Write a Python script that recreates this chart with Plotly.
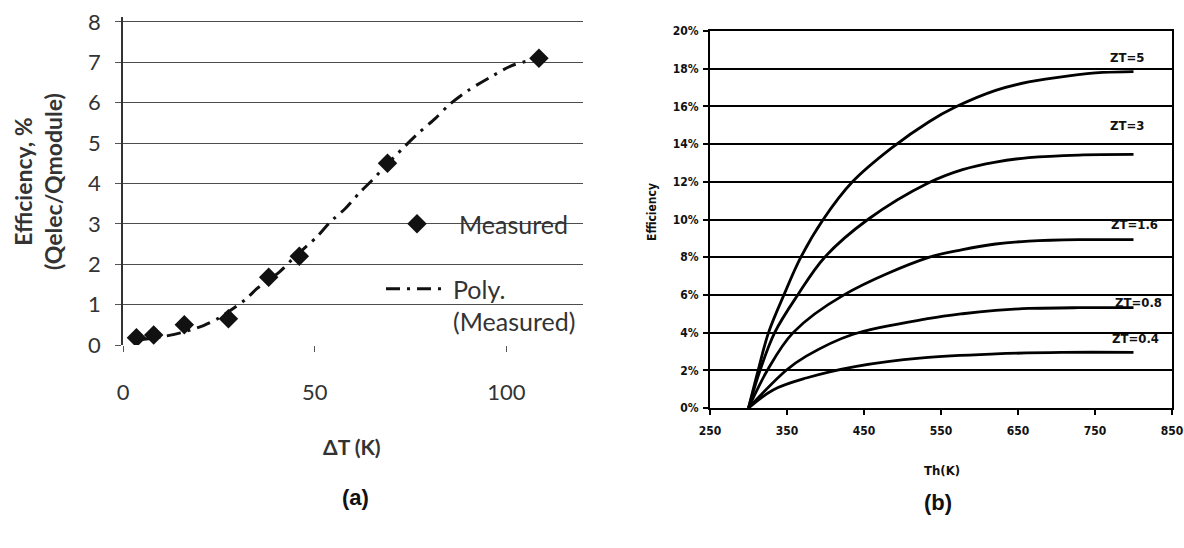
import plotly.graph_objects as go

W, H = 1184, 548

# ---------------- Panel (a) data ----------------
dT_measured = [3.5, 8, 16, 27.5, 38, 46, 69, 108.5]
eff_measured = [0.18, 0.25, 0.5, 0.65, 1.68, 2.2, 4.5, 7.1]

dT_poly = [3.5, 10, 15, 21, 25, 32, 35, 40.7, 45, 50.6, 54, 58, 61.7, 65, 69, 73, 77,
           81.5, 85, 90, 96, 101, 105, 108.5]
eff_poly = [0.12, 0.2, 0.3, 0.48, 0.67, 1.13, 1.4, 1.8, 2.2, 2.68, 3.04, 3.38, 3.77, 4.08,
            4.48, 4.87, 5.24, 5.61, 5.94, 6.3, 6.64, 6.9, 7.02, 7.1]

a_xticks = [0, 50, 100]
a_yticks = [0, 1, 2, 3, 4, 5, 6, 7, 8]

# ---------------- Panel (b) data ----------------
th_zt5 = [300, 312.5, 326, 346, 368, 397, 435, 486, 535, 568, 621, 664, 716, 760, 800]
eff_zt5 = [0, 2, 4, 6, 8, 10, 12, 13.8, 15.2, 15.95, 16.85, 17.3, 17.62, 17.8, 17.85]

th_zt3 = [300, 315, 334, 364, 399, 455, 534, 578, 621, 664, 729, 800]
eff_zt3 = [0, 2, 4, 6, 8, 10, 11.95, 12.65, 13.05, 13.28, 13.42, 13.45]

th_zt16 = [300, 324.5, 358, 424, 535, 578, 621, 664, 729, 800]
eff_zt16 = [0, 2, 4, 6, 8, 8.4, 8.7, 8.85, 8.93, 8.93]

th_zt08 = [300, 349, 375, 435, 535, 578, 621, 664, 729, 800]
eff_zt08 = [0, 2, 2.75, 3.9, 4.75, 5.0, 5.18, 5.28, 5.32, 5.32]

th_zt04 = [300, 332, 375, 440, 526, 621, 707, 800]
eff_zt04 = [0, 0.96, 1.59, 2.21, 2.66, 2.87, 2.95, 2.95]

zt_labels = ["ZT=5", "ZT=3", "ZT=1.6", "ZT=0.8", "ZT=0.4"]
zt_label_th = [792, 792, 801, 806, 802]
zt_label_eff = [18.6, 15.0, 9.75, 5.6, 3.7]

b_xticks = [250, 350, 450, 550, 650, 750, 850]
b_yticks = [0, 2, 4, 6, 8, 10, 12, 14, 16, 18, 20]
b_yticklabels = ["0%", "2%", "4%", "6%", "8%", "10%", "12%", "14%", "16%", "18%", "20%"]


def fx(px):
    return px / W


def fy(py):
    return 1 - py / H


FA = "Lato, Carlito, Calibri, sans-serif"
FB = "Liberation Sans Narrow, DejaVu Sans Condensed, Arial Narrow, Liberation Sans, sans-serif"

fig = go.Figure()

fig.add_trace(go.Scatter(
    x=dT_measured, y=eff_measured, mode="markers", name="Measured",
    marker=dict(symbol="diamond", size=15, color="#111111"),
    xaxis="x", yaxis="y", legend="legend",
))
fig.add_trace(go.Scatter(
    x=dT_poly, y=eff_poly, mode="lines", name="Poly.<br>(Measured)",
    line=dict(color="#111111", width=3, dash="14px,7px,3px,7px", shape="spline", smoothing=0.8),
    xaxis="x", yaxis="y", legend="legend2",
))

curves_b = [(th_zt5, eff_zt5), (th_zt3, eff_zt3), (th_zt16, eff_zt16),
            (th_zt08, eff_zt08), (th_zt04, eff_zt04)]
for (tx, ty), lab in zip(curves_b, zt_labels):
    fig.add_trace(go.Scatter(
        x=tx, y=ty, mode="lines", name=lab, showlegend=False,
        line=dict(color="#000000", width=2.8, shape="spline", smoothing=1.0),
        xaxis="x2", yaxis="y2",
    ))


def ann(text, x, y, font, angle=0, xref="paper", yref="paper"):
    return dict(text=text, x=x, y=y, xref=xref, yref=yref, textangle=angle,
                xanchor="center", yanchor="middle", showarrow=False, font=font)


annotations = [
    ann("<b>Efficiency, %<br>(Qelec/Qmodule)</b>", fx(38), fy(182),
        dict(family=FA, size=23, color="#333333"), angle=-90),
    ann("<b>ΔT (K)</b>", fx(352), fy(446), dict(family=FA, size=21, color="#333333")),
    ann("<b>(a)</b>", fx(355), fy(497), dict(family="Liberation Sans, Arial, sans-serif", size=22, color="#111111")),
    ann("<b>(b)</b>", fx(938), fy(502), dict(family="Liberation Sans, Arial, sans-serif", size=22, color="#111111")),
    ann("<b>Efficiency</b>", fx(652), fy(212), dict(family=FB, size=12, color="#111111"), angle=-90),
    ann("<b>Th(K)</b>", fx(942), fy(470), dict(family=FB, size=13, color="#111111")),
]
for lab, tx, ty in zip(zt_labels, zt_label_th, zt_label_eff):
    annotations.append(ann("<b>" + lab + "</b>", tx, ty, dict(family=FB, size=13, color="#111111"),
                           xref="x2", yref="y2"))

fig.update_layout(
    width=W, height=H,
    margin=dict(l=0, r=0, t=0, b=0, autoexpand=False),
    paper_bgcolor="white", plot_bgcolor="white",
    annotations=annotations,
    xaxis=dict(
        domain=[fx(123), fx(583)], range=[0, 120], tickvals=a_xticks, automargin=False,
        showgrid=False, zeroline=False, showline=False,
        ticks="outside", ticklen=6, tickcolor="#555555", tickwidth=1,
        ticklabelstandoff=22,
        tickfont=dict(family=FA, size=22, color="#333333"), anchor="y",
    ),
    yaxis=dict(
        domain=[fy(345), fy(17)], range=[0, 8.12], tickvals=a_yticks, automargin=False,
        showgrid=True, gridcolor="#4d4d4d", gridwidth=1.3, zeroline=False,
        showline=True, linecolor="#333333", linewidth=1.5,
        ticks="outside", ticklen=6, tickcolor="#555555",
        ticklabelstandoff=10,
        tickfont=dict(family=FA, size=22, color="#333333"), anchor="x",
    ),
    xaxis2=dict(
        domain=[fx(710), fx(1172)], range=[250, 850], tickvals=b_xticks, automargin=False,
        showgrid=False, zeroline=False, showline=True, linecolor="#000000", linewidth=2,
        mirror=True, ticks="outside", ticklen=5, tickcolor="#000000", tickwidth=1.5,
        ticklabelstandoff=6, ticklabeloverflow="allow",
        tickfont=dict(family=FB, size=12, color="#111111", weight="bold"), anchor="y2",
    ),
    yaxis2=dict(
        domain=[fy(408), fy(31)], range=[0, 20], tickvals=b_yticks, ticktext=b_yticklabels,
        automargin=False,
        showgrid=True, gridcolor="#000000", gridwidth=1.5, zeroline=False,
        showline=True, linecolor="#000000", linewidth=2, mirror=True,
        ticks="outside", ticklen=5, tickcolor="#000000", tickwidth=1.5,
        ticklabelstandoff=2, ticklabeloverflow="allow",
        tickfont=dict(family=FB, size=12, color="#111111", weight="bold"), anchor="x2",
    ),
    legend=dict(
        x=fx(375), y=fy(224), xanchor="left", yanchor="middle",
        bgcolor="rgba(0,0,0,0)", itemwidth=74,
        font=dict(family=FA, size=25, color="#333333"),
    ),
    legend2=dict(
        x=fx(381), y=fy(266), xanchor="left", yanchor="top", valign="top",
        bgcolor="rgba(0,0,0,0)", itemwidth=62,
        font=dict(family=FA, size=25, color="#333333"),
    ),
)

fig.write_html("out.html", config={"displayModeBar": False},
               post_script="document.body.style.margin='0';document.body.style.overflow='hidden';")
